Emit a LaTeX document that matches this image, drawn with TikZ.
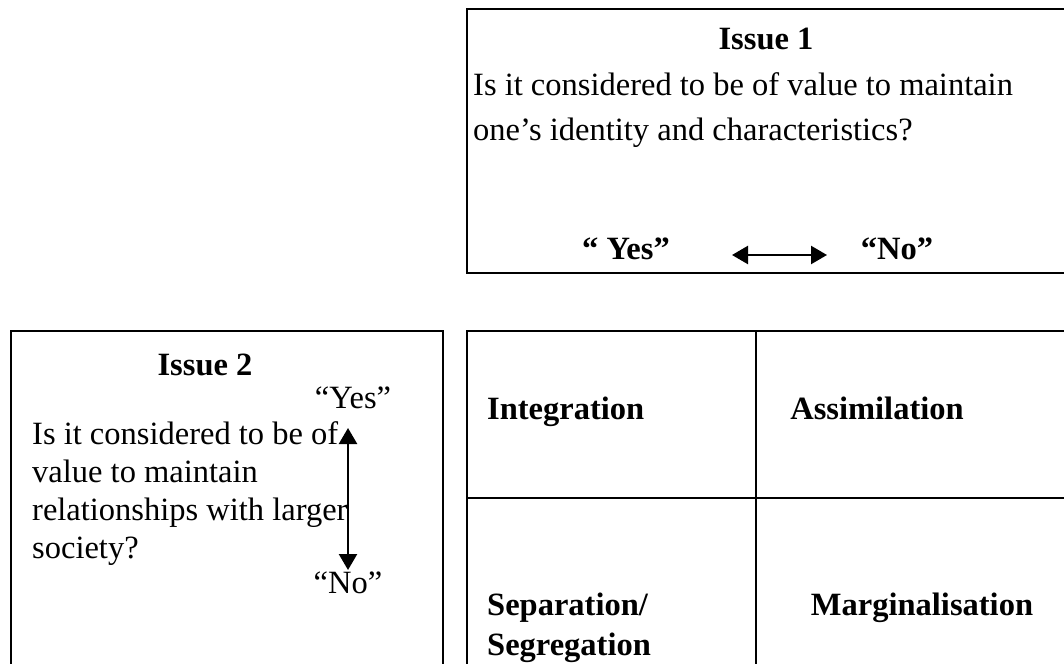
\documentclass[tikz,border=0pt]{standalone}
\usepackage{fontspec}
\setmainfont{Liberation Serif}
\usetikzlibrary{arrows.meta, positioning}

\tikzset{
  txt/.style={inner sep=0pt, font=\fontsize{32.5}{38}\selectfont},
  head/.style={inner sep=0pt, font=\fontsize{32.5}{40}\selectfont\bfseries},
  box/.style={draw, line width=2.4pt},
  yesno/.style={{Triangle[length=16pt,width=18pt]}-{Triangle[length=16pt,width=18pt]}, line width=2.4pt},
}

\begin{document}
\begin{tikzpicture}[x=1pt, y=-1pt]
  \clip (0,0) rectangle (1064,663);

  % boxes and grid
  \draw[box] (467,9) rectangle (1090,273);
  \draw[box] (11,331) rectangle (443,690);
  \draw[box] (467,331) rectangle (1090,690);
  \draw[box] (756,331) -- (756,690);
  \draw[box] (467,498) -- (1090,498);

  % issue 1
  \node[head, anchor=base] (issue1) at (766,50) {Issue 1};
  \node[txt, anchor=base west, align=left, font=\fontsize{32.5}{45}\selectfont] (q1) at (473,141)
    {Is it considered to be of value to maintain\\one’s identity and characteristics?};
  \node[head, anchor=base] (yes1) at (626,259) {“ Yes”};
  \node[head, anchor=base] (no1) at (897,259) {“No”};
  \coordinate (l1) at (732,255);
  \coordinate (r1) at (827,255);
  \draw[yesno] (l1) -- (r1);

  % issue 2
  \node[head, anchor=base] (issue2) at (205,375) {Issue 2};
  \node[txt, anchor=base] (yes2) at (353,408) {“Yes”};
  \node[txt, anchor=base west, align=left] (q2) at (32,558)
    {Is it considered to be of\\value to maintain\\relationships with larger\\society?};
  \node[txt, anchor=base] (no2) at (348,593) {“No”};
  \coordinate (t2) at (348,428);
  \coordinate (b2) at (348,570);
  \draw[yesno] (t2) -- (b2);

  % strategies
  \node[head, anchor=base west] (integ) at (487,419) {Integration};
  \node[head, anchor=base] (assim) at (877,419) {Assimilation};
  \node[head, anchor=base west, align=left] (separ) at (487,655) {Separation/\\Segregation};
  \node[head, anchor=base] (margin) at (922,615) {Marginalisation};
\end{tikzpicture}
\end{document}
